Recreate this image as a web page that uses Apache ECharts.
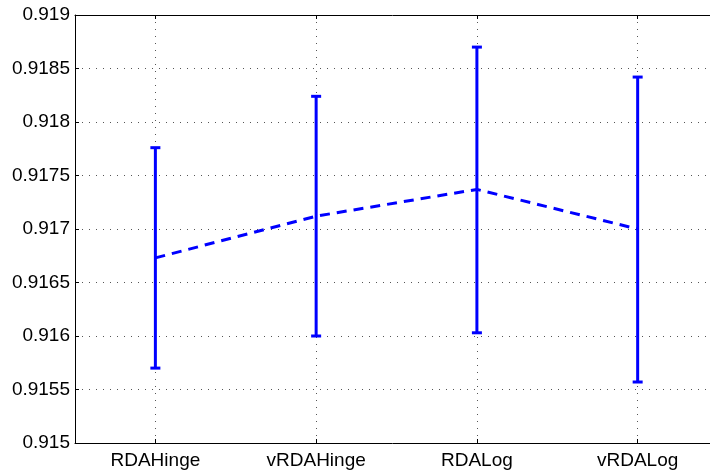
<!DOCTYPE html>
<html>
<head>
<meta charset="utf-8">
<script src="https://cdn.jsdelivr.net/npm/echarts@6/dist/echarts.min.js"></script>
<style>
  html, body { margin: 0; padding: 0; background: #fff; }
  #chart { width: 710px; height: 476px; }
</style>
</head>
<body>
<div id="chart"></div>
<script>
// methods along the x axis
var categories = ['RDAHinge', 'vRDAHinge', 'RDALog', 'vRDALog']
// mean accuracy and error bar ends
var means = [0.91673, 0.91712, 0.91737, 0.91700]
var lower = [0.91570, 0.91600, 0.91603, 0.91557]
var upper = [0.91776, 0.91824, 0.91870, 0.91842]
// y tick range
var yMin = 0.915
var yMax = 0.919
var yStep = 0.0005
// x range: the original figure is cut off at the right edge
var xMin = 0.5
var xMax = 4.45

var lineData = means.map(function (v, i) { return [i + 1, v] })
var barData = means.map(function (v, i) { return [i + 1, lower[i], upper[i]] })

var gridLine = { show: true, lineStyle: { color: '#555', type: [1, 6], width: 1 } }
var font = { fontFamily: 'Liberation Sans', fontSize: 19, color: '#000' }

var chart = echarts.init(document.getElementById('chart'))
chart.setOption({
  animation: false,
  grid: { left: 75, top: 15, right: 0, bottom: 33 },
  xAxis: [
    {
      type: 'value',
      min: xMin,
      max: xMax,
      position: 'bottom',
      axisLine: { lineStyle: { color: '#000', width: 1 } },
      axisTick: { inside: true, length: 4, lineStyle: { color: '#000' } },
      axisLabel: Object.assign({
        margin: 8,
        showMinLabel: false,
        showMaxLabel: false,
        formatter: function (v) {
          return Number.isInteger(v) ? (categories[v - 1] || '') : ''
        }
      }, font),
      splitLine: Object.assign({ showMinLine: false, showMaxLine: false }, gridLine)
    },
    {
      type: 'value',
      min: xMin,
      max: xMax,
      position: 'top',
      axisLine: { lineStyle: { color: '#000', width: 1 } },
      axisTick: { inside: true, length: 4, lineStyle: { color: '#000' } },
      axisLabel: { show: false },
      splitLine: { show: false }
    }
  ],
  yAxis: {
    type: 'value',
    min: yMin,
    max: yMax,
    interval: yStep,
    axisLine: { show: true, lineStyle: { color: '#000', width: 1 } },
    axisTick: { show: true, inside: true, length: 4, lineStyle: { color: '#000' } },
    axisLabel: Object.assign({
      margin: 5,
      formatter: function (v) { return String(parseFloat(v.toFixed(4))) }
    }, font),
    splitLine: gridLine
  },
  series: [
    {
      type: 'line',
      data: lineData,
      symbol: 'none',
      lineStyle: { color: '#0000ff', width: 3, type: [10, 7] },
      z: 3
    },
    {
      type: 'custom',
      data: barData,
      z: 4,
      renderItem: function (params, api) {
        var lo = api.coord([api.value(0), api.value(1)])
        var hi = api.coord([api.value(0), api.value(2)])
        var half = 5
        var style = { stroke: '#0000ff', lineWidth: 3 }
        return {
          type: 'group',
          children: [
            { type: 'line', shape: { x1: lo[0], y1: lo[1], x2: hi[0], y2: hi[1] }, style: style },
            { type: 'line', shape: { x1: lo[0] - half, y1: lo[1], x2: lo[0] + half, y2: lo[1] }, style: style },
            { type: 'line', shape: { x1: hi[0] - half, y1: hi[1], x2: hi[0] + half, y2: hi[1] }, style: style }
          ]
        }
      }
    }
  ]
})
</script>
</body>
</html>
